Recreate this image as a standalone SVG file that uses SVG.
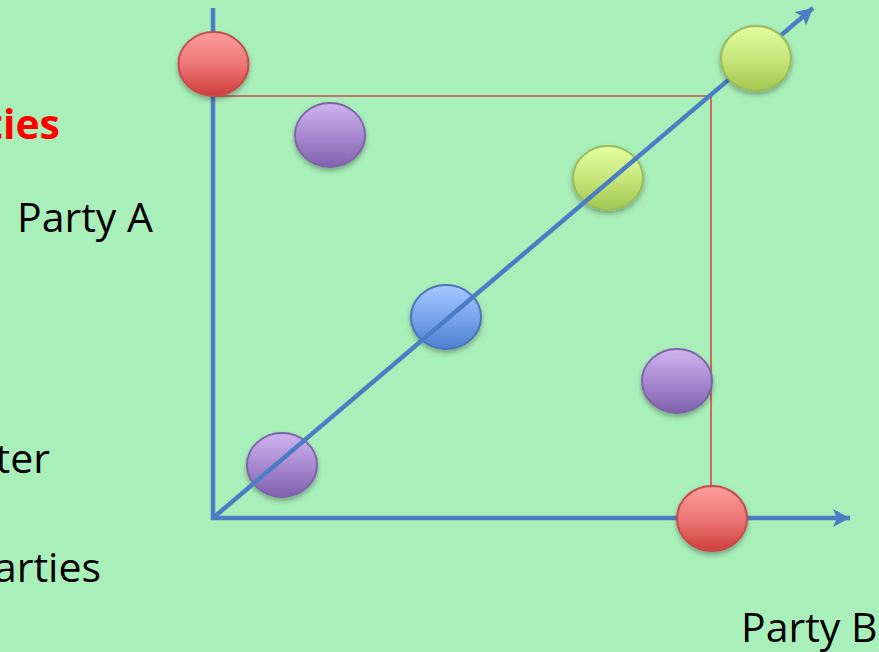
<svg xmlns="http://www.w3.org/2000/svg" width="879" height="652" viewBox="0 0 879 652">
<defs>
<style>
.axis{stroke:#4a7ec4;stroke-width:4.5;fill:none}
.rl{stroke:#c8504d;stroke-width:1.6;fill:none}
.t{font-family:"Open Sans","Liberation Sans",sans-serif;font-size:41px;fill:#000}
.tr{font-family:"Open Sans","Liberation Sans",sans-serif;font-size:41px;font-weight:bold;fill:#ff0000}
.red{fill:url(#gRed);stroke:#c44b48;stroke-width:2}
.grn{fill:url(#gGrn);stroke:#9bbb59;stroke-width:2}
.pur{fill:url(#gPur);stroke:#7f63a8;stroke-width:2}
.blu{fill:url(#gBlu);stroke:#4674b8;stroke-width:2}
</style>
<linearGradient id="gRed" x1="0" y1="0" x2="0" y2="1"><stop offset="0" stop-color="#ff9e9c"/><stop offset="0.5" stop-color="#ec7876"/><stop offset="1" stop-color="#d03e3c"/></linearGradient>
<linearGradient id="gGrn" x1="0" y1="0" x2="0" y2="1"><stop offset="0" stop-color="#e2ffa2"/><stop offset="0.5" stop-color="#c8e67c"/><stop offset="1" stop-color="#a2c650"/></linearGradient>
<linearGradient id="gPur" x1="0" y1="0" x2="0" y2="1"><stop offset="0" stop-color="#cfb4f0"/><stop offset="0.5" stop-color="#a98ad0"/><stop offset="1" stop-color="#8062ae"/></linearGradient>
<linearGradient id="gBlu" x1="0" y1="0" x2="0" y2="1"><stop offset="0" stop-color="#a6c8ff"/><stop offset="0.5" stop-color="#7aa6ec"/><stop offset="1" stop-color="#4c80d0"/></linearGradient>
<filter id="sh" x="-30%" y="-30%" width="160%" height="170%"><feDropShadow dx="0" dy="3" stdDeviation="2.5" flood-color="#000" flood-opacity="0.3"/></filter>
<marker id="arr" markerUnits="userSpaceOnUse" markerWidth="22" markerHeight="22" refX="17" refY="9" orient="auto"><path d="M0,0 L17,9 L0,18 L4,9 Z" fill="#4a7ec4"/></marker>
</defs>
<rect width="879" height="652" fill="#a9efba"/>
<text class="tr" x="60" y="139" text-anchor="end">ties</text>
<text class="t" x="17" y="232">Party A</text>
<text class="t" x="50" y="473" text-anchor="end">ter</text>
<text class="t" x="101" y="582" text-anchor="end">arties</text>
<text class="t" x="741" y="642">Party B</text>
<g id="connectors">
<line class="axis" x1="213" y1="8" x2="213" y2="520"/>
<line class="axis" x1="211" y1="518" x2="850" y2="518" marker-end="url(#arr)"/>
<polyline class="rl" points="213,96 711,96 711,518"/>
</g>
<g id="n-purple-top" filter="url(#sh)"><ellipse class="pur" cx="330" cy="135" rx="35" ry="32"/></g>
<g id="n-green-mid" filter="url(#sh)"><ellipse class="grn" cx="608" cy="178" rx="35" ry="32"/></g>
<g id="n-blue" filter="url(#sh)"><ellipse class="blu" cx="446" cy="317" rx="35" ry="32"/></g>
<g id="n-purple-right" filter="url(#sh)"><ellipse class="pur" cx="677" cy="381" rx="35" ry="32"/></g>
<g id="n-purple-low" filter="url(#sh)"><ellipse class="pur" cx="282" cy="465" rx="35" ry="32"/></g>
<g id="diagonal"><line class="axis" x1="213" y1="518" x2="813" y2="8" marker-end="url(#arr)"/></g>
<g id="n-red-top" filter="url(#sh)"><ellipse class="red" cx="213.5" cy="64" rx="35" ry="32"/></g>
<g id="n-green-top" filter="url(#sh)"><ellipse class="grn" cx="756" cy="58.5" rx="35" ry="32.5"/></g>
<g id="n-red-bottom" filter="url(#sh)"><ellipse class="red" cx="712" cy="518.5" rx="35" ry="32.5"/></g>
</svg>
